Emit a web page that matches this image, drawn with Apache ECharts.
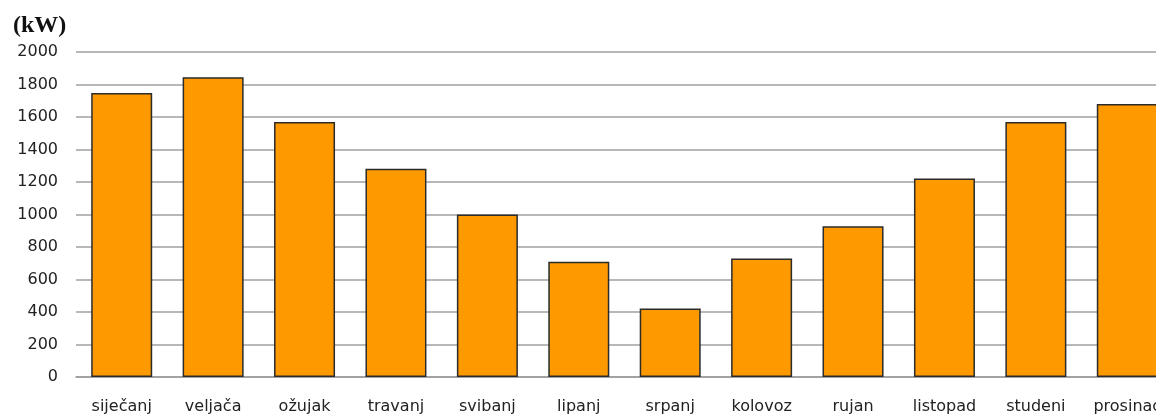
<!DOCTYPE html>
<html>
<head>
<meta charset="utf-8">
<script src="https://cdn.jsdelivr.net/npm/echarts@6/dist/echarts.min.js"></script>
<style>
  html, body { margin: 0; padding: 0; overflow: hidden; background: #fff; }
  #chart_1 { width: 1180px; height: 415px; }
</style>
</head>
<body>
<div id="chart_1"></div>
<script>
'use strict';
var months = ['siječanj', 'veljača', 'ožujak', 'travanj', 'svibanj', 'lipanj',
              'srpanj', 'kolovoz', 'rujan', 'listopad', 'studeni', 'prosinac'];
var power = [1748, 1845, 1570, 1282, 1000, 710, 422, 730, 927, 1222, 1570, 1680];
var yTicks = [0, 2000, 200]; // min, max, step

var myChart = echarts.init(document.getElementById('chart_1'));
var option = {
  animation: false,
  title: {
    text: '(kW)',
    left: 8,
    top: 9,
    textStyle: {
      fontFamily: 'Liberation Serif',
      fontWeight: 'bold',
      fontSize: 24,
      color: '#111'
    }
  },
  grid: {
    top: 52,
    left: 76,
    right: 7,
    bottom: 37,
    containLabel: false
  },
  xAxis: {
    type: 'category',
    data: months,
    axisLine: { lineStyle: { color: '#9a9a9a', width: 1.5 } },
    axisTick: { show: false },
    axisLabel: {
      margin: 22,
      fontFamily: 'DejaVu Sans',
      fontSize: 16,
      color: '#222',
      interval: 0
    }
  },
  yAxis: {
    type: 'value',
    min: yTicks[0],
    max: yTicks[1],
    interval: yTicks[2],
    axisLine: { show: false },
    axisTick: { show: false },
    splitLine: { lineStyle: { color: '#a0a0a0', width: 1.5 } },
    axisLabel: {
      margin: 18,
      fontFamily: 'DejaVu Sans',
      fontSize: 16,
      color: '#222',
      formatter: function (v) { return String(v); }
    }
  },
  series: [{
    type: 'bar',
    data: power,
    barWidth: 61,
    itemStyle: {
      color: '#FF9900',
      borderColor: '#2b2b2b',
      borderWidth: 1.5
    }
  }]
};
myChart.setOption(option);
</script>
</body>
</html>
